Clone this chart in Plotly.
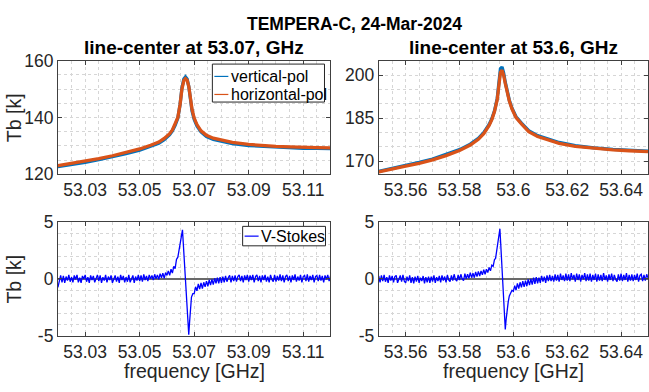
import plotly.graph_objects as go

# ---------------- data ----------------
# top-left: line-center at 53.07 GHz
tl_freq = [53.020, 53.025, 53.030, 53.035, 53.040, 53.045, 53.050, 53.054, 53.057, 53.059,
           53.061, 53.062, 53.063, 53.064, 53.0648, 53.0655, 53.0662, 53.0668, 53.0674, 53.0680,
           53.0686, 53.0692, 53.0700, 53.0710, 53.0725, 53.0745, 53.077, 53.080, 53.084, 53.090,
           53.095, 53.100, 53.105, 53.110, 53.115, 53.120]
tl_hpol = [123.0, 123.8, 124.6, 125.5, 126.5, 127.6, 128.9, 130.2, 131.3, 132.6,
           134.3, 135.6, 137.5, 140.0, 144.5, 150.0, 153.0, 153.7, 153.2, 151.0,
           147.0, 142.8, 139.8, 137.5, 135.3, 133.7, 132.7, 132.0, 131.2, 130.5,
           130.1, 129.8, 129.6, 129.4, 129.35, 129.3]
tl_vpol = [122.7, 123.4, 124.2, 125.1, 126.1, 127.2, 128.5, 129.8, 130.9, 132.2,
           133.9, 135.3, 137.2, 139.8, 144.5, 150.4, 153.6, 154.3, 153.6, 151.0,
           146.6, 142.3, 139.3, 137.0, 134.9, 133.3, 132.3, 131.6, 130.8, 130.1,
           129.8, 129.5, 129.3, 129.1, 129.1, 129.0]

# top-right: line-center at 53.6 GHz
tr_freq = [53.550, 53.555, 53.560, 53.565, 53.570, 53.575, 53.580, 53.584, 53.587, 53.589,
           53.591, 53.592, 53.593, 53.594, 53.5946, 53.5952, 53.5958, 53.5964, 53.5970, 53.5977,
           53.5985, 53.5995, 53.601, 53.603, 53.6057, 53.609, 53.613, 53.617, 53.623, 53.630,
           53.637, 53.643, 53.650]
tr_hpol = [166.2, 167.1, 168.2, 169.2, 170.4, 171.9, 173.7, 175.6, 177.6, 179.6,
           182.5, 184.5, 187.3, 191.5, 197.5, 201.0, 201.8, 200.0, 197.2, 194.2,
           191.0, 188.2, 185.2, 183.0, 180.3, 178.6, 177.4, 176.2, 175.1, 174.4,
           173.9, 173.6, 173.3]
tr_vpol = [166.4, 167.4, 168.5, 169.5, 170.7, 172.2, 174.0, 175.9, 177.9, 179.9,
           182.8, 184.8, 187.6, 191.9, 198.3, 202.3, 202.9, 200.8, 197.6, 194.5,
           191.3, 188.5, 185.5, 183.3, 180.6, 178.9, 177.7, 176.5, 175.4, 174.6,
           174.1, 173.8, 173.5]

# bottom-left: V-Stokes around 53.07 GHz
bl_freq = [
    53.0200, 53.0205, 53.0210, 53.0215, 53.0220, 53.0225, 53.0230, 53.0235, 53.0240, 53.0245,
    53.0250, 53.0255, 53.0260, 53.0265, 53.0270, 53.0275, 53.0280, 53.0285, 53.0290, 53.0295,
    53.0300, 53.0305, 53.0310, 53.0315, 53.0320, 53.0325, 53.0330, 53.0335, 53.0340, 53.0345,
    53.0350, 53.0355, 53.0360, 53.0365, 53.0370, 53.0375, 53.0380, 53.0385, 53.0390, 53.0395,
    53.0400, 53.0405, 53.0410, 53.0415, 53.0420, 53.0425, 53.0430, 53.0435, 53.0440, 53.0445,
    53.0450, 53.0455, 53.0460, 53.0465, 53.0470, 53.0475, 53.0480, 53.0485, 53.0490, 53.0495,
    53.0500, 53.0505, 53.0510, 53.0515, 53.0520, 53.0525, 53.0530, 53.0535, 53.0540, 53.0545,
    53.0550, 53.0555, 53.0560, 53.0565, 53.0570, 53.0575, 53.0580, 53.0585, 53.0590, 53.0595,
    53.0600,
    53.0605, 53.0610, 53.0615, 53.0620, 53.0625, 53.0630, 53.0635, 53.0640, 53.0644, 53.0648,
    53.0651, 53.0654, 53.0657, 53.0660, 53.0663, 53.0666, 53.0669, 53.0672, 53.0675, 53.0678,
    53.0680, 53.0683, 53.0686, 53.0690, 53.0695,
    53.0700, 53.0705, 53.0710, 53.0715, 53.0720, 53.0725, 53.0730, 53.0735, 53.0740, 53.0745,
    53.0750, 53.0755, 53.0760, 53.0765, 53.0770, 53.0775, 53.0780, 53.0785, 53.0790, 53.0795,
    53.0800, 53.0805, 53.0810, 53.0815, 53.0820, 53.0825, 53.0830, 53.0835, 53.0840, 53.0845,
    53.0850, 53.0855, 53.0860, 53.0865, 53.0870, 53.0875, 53.0880, 53.0885, 53.0890, 53.0895,
    53.0900, 53.0905, 53.0910, 53.0915, 53.0920, 53.0925, 53.0930, 53.0935, 53.0940, 53.0945,
    53.0950, 53.0955, 53.0960, 53.0965, 53.0970, 53.0975, 53.0980, 53.0985, 53.0990, 53.0995,
    53.1000, 53.1005, 53.1010, 53.1015, 53.1020, 53.1025, 53.1030, 53.1035, 53.1040, 53.1045,
    53.1050, 53.1055, 53.1060, 53.1065, 53.1070, 53.1075, 53.1080, 53.1085, 53.1090, 53.1095,
    53.1100, 53.1105, 53.1110, 53.1115, 53.1120, 53.1125, 53.1130, 53.1135, 53.1140, 53.1145,
    53.1150, 53.1155, 53.1160, 53.1165, 53.1170, 53.1175, 53.1180, 53.1185, 53.1190, 53.1195,
    53.1200]
bl_vstokes = [
    -0.75, -0.1, 0.3, -0.3, 0.25, -0.35, 0.2, -0.15, 0.35, -0.25,
    0.15, -0.3, 0.3, -0.05, 0.35, -0.3, 0.1, -0.35, 0.25, 0.0,
    0.35, -0.25, 0.15, -0.35, 0.3, -0.1, 0.25, -0.3, 0.1, 0.35,
    -0.2, 0.3, -0.35, 0.15, -0.15, 0.35, -0.3, 0.2, -0.1, 0.3,
    -0.35, 0.1, 0.3, -0.25, 0.2, -0.35, 0.35, -0.1, 0.25, -0.3,
    0.15, -0.25, 0.35, -0.3, 0.05, 0.3, -0.35, 0.2, -0.15, 0.35,
    -0.2, 0.3, -0.25, 0.4, -0.1, 0.25, -0.2, 0.35, 0.0, 0.3,
    -0.1, 0.4, 0.0, 0.35, -0.05, 0.45, 0.1, 0.5, 0.05, 0.55,
    0.3,
    0.7, 0.3, 0.85, 0.5, 1.1, 0.9, 1.7, 1.9, 2.5, 2.8,
    3.3, 3.7, 4.3, 3.1, 1.9, 0.7, -0.5, -1.7, -2.9, -4.1,
    -4.9, -3.8, -2.6, -1.6, -1.3,
    -1.3, -0.7, -1.05, -0.45, -0.9, -0.35, -0.85, -0.3, -0.7, -0.2,
    -0.65, -0.1, -0.55, -0.05, -0.5, 0.05, -0.4, 0.1, -0.4, 0.15,
    -0.35, 0.2, -0.3, 0.25, -0.25, 0.1, 0.3, -0.3, 0.25, -0.2,
    0.3, -0.25, 0.2, 0.35, -0.2, 0.25, -0.3, 0.3, -0.1, 0.35,
    -0.25, 0.3, -0.1, 0.35, -0.3, 0.2, 0.35, -0.2, 0.25, -0.3,
    0.3, -0.1, 0.35, -0.25, 0.2, -0.3, 0.35, -0.05, -0.25, 0.35,
    -0.25, 0.25, -0.15, 0.4, -0.2, 0.3, -0.3, 0.2, 0.35, -0.2,
    0.25, -0.3, 0.3, -0.1, 0.4, -0.25, 0.2, -0.15, 0.35, -0.3,
    0.2, 0.3, -0.2, 0.4, -0.25, 0.25, -0.1, 0.35, -0.3, 0.2,
    0.3, -0.2, 0.35, -0.15, 0.25, -0.3, 0.3, -0.05, 0.35, -0.2,
    0.25]

# bottom-right: V-Stokes around 53.6 GHz
br_freq = [
    53.5500, 53.5505, 53.5510, 53.5515, 53.5520, 53.5525, 53.5530, 53.5535, 53.5540, 53.5545,
    53.5550, 53.5555, 53.5560, 53.5565, 53.5570, 53.5575, 53.5580, 53.5585, 53.5590, 53.5595,
    53.5600, 53.5605, 53.5610, 53.5615, 53.5620, 53.5625, 53.5630, 53.5635, 53.5640, 53.5645,
    53.5650, 53.5655, 53.5660, 53.5665, 53.5670, 53.5675, 53.5680, 53.5685, 53.5690, 53.5695,
    53.5700, 53.5705, 53.5710, 53.5715, 53.5720, 53.5725, 53.5730, 53.5735, 53.5740, 53.5745,
    53.5750, 53.5755, 53.5760, 53.5765, 53.5770, 53.5775, 53.5780, 53.5785, 53.5790, 53.5795,
    53.5800, 53.5805, 53.5810, 53.5815, 53.5820, 53.5825, 53.5830, 53.5835, 53.5840, 53.5845,
    53.5850, 53.5855, 53.5860, 53.5865, 53.5870, 53.5875, 53.5880, 53.5885, 53.5890, 53.5895,
    53.5900,
    53.5905, 53.5910, 53.5915, 53.5920, 53.5925, 53.5930, 53.5934, 53.5938, 53.5942, 53.5946,
    53.5950, 53.5953, 53.5956, 53.5959, 53.5962, 53.5965, 53.5968, 53.5970, 53.5973, 53.5977,
    53.5981, 53.5985, 53.5990, 53.5995,
    53.6000, 53.6005, 53.6010, 53.6015, 53.6020, 53.6025, 53.6030, 53.6035, 53.6040, 53.6045,
    53.6050, 53.6055, 53.6060, 53.6065, 53.6070, 53.6075, 53.6080, 53.6085, 53.6090, 53.6095,
    53.6100, 53.6105, 53.6110, 53.6115, 53.6120, 53.6125, 53.6130, 53.6135, 53.6140, 53.6145,
    53.6150, 53.6155, 53.6160, 53.6165, 53.6170, 53.6175, 53.6180, 53.6185, 53.6190, 53.6195,
    53.6200, 53.6205, 53.6210, 53.6215, 53.6220, 53.6225, 53.6230, 53.6235, 53.6240, 53.6245,
    53.6250, 53.6255, 53.6260, 53.6265, 53.6270, 53.6275, 53.6280, 53.6285, 53.6290, 53.6295,
    53.6300, 53.6305, 53.6310, 53.6315, 53.6320, 53.6325, 53.6330, 53.6335, 53.6340, 53.6345,
    53.6350, 53.6355, 53.6360, 53.6365, 53.6370, 53.6375, 53.6380, 53.6385, 53.6390, 53.6395,
    53.6400, 53.6405, 53.6410, 53.6415, 53.6420, 53.6425, 53.6430, 53.6435, 53.6440, 53.6445,
    53.6450, 53.6455, 53.6460, 53.6465, 53.6470, 53.6475, 53.6480, 53.6485, 53.6490, 53.6495,
    53.6500]
br_vstokes = [
    0.25, -0.3, 0.3, -0.2, 0.35, -0.25, 0.15, -0.35, 0.3, -0.15,
    0.25, -0.3, 0.2, 0.3, -0.35, 0.05, 0.3, -0.25, 0.35, -0.2,
    -0.35, 0.2, -0.2, 0.3, -0.35, 0.15, -0.4, 0.2, -0.25, 0.25,
    -0.35, 0.1, -0.2, 0.25, -0.4, 0.15, -0.3, 0.2, -0.35, 0.2,
    -0.25, 0.3, -0.35, 0.15, -0.2, 0.25, -0.3, 0.3, -0.15, 0.2,
    -0.3, 0.35, -0.1, -0.25, 0.3, -0.15, 0.4, -0.05, -0.2, 0.35,
    -0.1, 0.4, 0.0, -0.15, 0.45, 0.0, 0.4, 0.05, 0.55, 0.1,
    0.5, 0.1, 0.6, 0.2, 0.65, 0.25, 0.7, 0.35, 0.8, 0.4,
    0.85,
    0.55, 1.0, 0.7, 1.2, 1.1, 1.7, 1.8, 2.5, 3.0, 3.6,
    4.4, 3.1, 1.8, 0.4, -1.0, -2.4, -3.7, -4.45, -3.6, -2.6,
    -2.0, -1.5, -1.2, -1.0,
    -1.1, -0.6, -1.0, -0.4, -0.85, -0.3, -0.75, -0.2, -0.7, -0.15,
    -0.65, -0.05, -0.55, 0.0, -0.5, 0.1, -0.45, 0.15, -0.4, 0.1,
    -0.35, 0.25, -0.25, 0.2, -0.35, 0.3, -0.2, 0.35, -0.2, 0.25,
    -0.25, 0.4, -0.15, 0.35, -0.25, 0.45, -0.1, 0.3, -0.2, 0.45,
    -0.15, 0.4, -0.2, 0.5, -0.05, 0.35, -0.25, 0.45, -0.1, 0.4,
    -0.25, 0.35, -0.05, 0.5, -0.2, 0.4, -0.15, 0.45, -0.25, 0.35,
    -0.1, 0.45, -0.25, 0.4, -0.15, 0.35, -0.2, 0.5, -0.1, 0.3,
    -0.25, 0.4, -0.1, 0.45, -0.2, 0.35, -0.05, -0.25, 0.4, -0.15,
    0.45, -0.2, 0.35, -0.1, 0.5, -0.25, 0.35, -0.15, 0.4, -0.2,
    0.35, -0.1, 0.45, -0.25, 0.3, 0.4, -0.2, 0.35, -0.15, 0.4,
    0.1]

# tick labels for the V-Stokes panels (MATLAB prints a plain hyphen)
vs_tickvals = [-5, 0, 5]
vs_ticktext = ["-5", "0", "5"]

# ---------------- styling ----------------
W, H = 649, 392
FONT = "Liberation Sans, Arial, Helvetica, sans-serif"
TXT = "#262626"
BLUE = "#0072BD"
ORANGE = "#D95319"
VBLUE = "#0000FF"
GRID = "#d6d6d6"
AXLINE = "#404040"


def px_x(p):
    return p / W


def px_y(p):
    return 1 - p / H


fig = go.Figure()

traces = [
    (tl_freq, tl_vpol, "vertical-pol", BLUE, 3.3, "x", "y"),
    (tl_freq, tl_hpol, "horizontal-pol", ORANGE, 3.3, "x", "y"),
    (tr_freq, tr_vpol, "vertical-pol", BLUE, 3.3, "x2", "y2"),
    (tr_freq, tr_hpol, "horizontal-pol", ORANGE, 3.3, "x2", "y2"),
    (bl_freq, bl_vstokes, "V-Stokes", VBLUE, 1.3, "x3", "y3"),
    (br_freq, br_vstokes, "V-Stokes", VBLUE, 1.3, "x4", "y4"),
]
for fx, fy, nm, col, lw, xa, ya in traces:
    fig.add_trace(go.Scatter(x=fx, y=fy, mode="lines", name=nm, showlegend=False,
                             line=dict(color=col, width=lw), xaxis=xa, yaxis=ya))

left_dom = [px_x(58), px_x(331)]
right_dom = [px_x(379.3), 1.0]
top_dom = [px_y(173), px_y(53.5)]
bot_dom = [px_y(343.3), px_y(223.3)]

TICKSIZE = 17.5


def xax(dom, rng, tick0, anchor):
    return dict(domain=dom, range=rng, tickmode="linear", tick0=tick0, dtick=0.02,
                showline=True, linecolor=AXLINE, linewidth=1, mirror="allticks",
                ticks="inside", ticklen=4, tickcolor=AXLINE,
                showgrid=True, gridcolor=GRID, griddash="dot", gridwidth=1,
                minor=dict(tick0=tick0, dtick=0.005, showgrid=True, gridcolor=GRID,
                           griddash="dot", gridwidth=1, ticks=""),
                tickfont=dict(family=FONT, size=TICKSIZE, color=TXT), zeroline=False,
                anchor=anchor, fixedrange=True)


def yax(dom, rng, tick0, dtick, mdtick, anchor, zero=False):
    d = dict(domain=dom, range=rng, tickmode="linear", tick0=tick0, dtick=dtick,
             showline=True, linecolor=AXLINE, linewidth=1, mirror="allticks",
             ticks="inside", ticklen=4, tickcolor=AXLINE,
             showgrid=True, gridcolor=GRID, griddash="dot", gridwidth=1,
             minor=dict(tickmode="linear", tick0=0, dtick=mdtick, showgrid=True, gridcolor=GRID,
                        griddash="dot", gridwidth=1, ticks=""),
             tickfont=dict(family=FONT, size=TICKSIZE, color=TXT),
             zeroline=zero, zerolinecolor="#6a6a6a", zerolinewidth=1.6,
             anchor=anchor, fixedrange=True)
    if zero:
        d.update(tickmode="array", tickvals=vs_tickvals, ticktext=vs_ticktext)
    return d


fig.update_layout(
    width=W, height=H, margin=dict(l=0, r=0, t=0, b=0),
    paper_bgcolor="white", plot_bgcolor="white",
    font=dict(family=FONT, color=TXT),
    xaxis=xax(left_dom, [53.02, 53.12], 53.03, "y"),
    yaxis=yax(top_dom, [120, 160], 120, 20, 5, "x"),
    xaxis2=xax(right_dom, [53.55, 53.65], 53.56, "y2"),
    yaxis2=yax(top_dom, [165.4, 205.1], 170, 15, 5, "x2"),
    xaxis3=xax(left_dom, [53.02, 53.12], 53.03, "y3"),
    yaxis3=yax(bot_dom, [-5, 5], -5, 5, 1, "x3", zero=True),
    xaxis4=xax(right_dom, [53.55, 53.65], 53.56, "y4"),
    yaxis4=yax(bot_dom, [-5, 5], -5, 5, 1, "x4", zero=True),
    showlegend=False,
)

# ---- legends drawn as boxes with sample lines and text ----
shapes = []
annotations = []


def legend_box(x0, y0, x1, y1, entries):
    shapes.append(dict(type="rect", xref="paper", yref="paper",
                       x0=px_x(x0), x1=px_x(x1), y0=px_y(y1), y1=px_y(y0),
                       line=dict(color="#262626", width=1), fillcolor="white", layer="above"))
    for name, col, lw, ly in entries:
        shapes.append(dict(type="line", xref="paper", yref="paper",
                           x0=px_x(x0 + 2), x1=px_x(x0 + 16), y0=px_y(ly), y1=px_y(ly),
                           line=dict(color=col, width=lw), layer="above"))
        annotations.append(dict(text=name, x=px_x(x0 + 16.5), y=px_y(ly), xanchor="left",
                                yanchor="middle", font=dict(size=16, color="#000000")))


legend_box(212.7, 57, 325, 97, [(traces[0][2], BLUE, 1.2, 70), (traces[1][2], ORANGE, 1.2, 89)])
legend_box(243, 228, 326, 248.5, [(traces[4][2], VBLUE, 1.2, 238.3)])

annotations += [
    dict(text="<b>TEMPERA-C, 24-Mar-2024</b>", x=px_x(355), y=px_y(15),
         font=dict(size=17.5, color="#000000")),
    dict(text="<b>line-center at 53.07, GHz</b>", x=px_x(194.5), y=px_y(40),
         font=dict(size=19, color="#000000")),
    dict(text="<b>line-center at 53.6, GHz</b>", x=px_x(514), y=px_y(40),
         font=dict(size=19, color="#000000")),
    dict(text="Tb [k]", x=px_x(14), y=px_y(113), textangle=-90,
         font=dict(size=19.5, color=TXT)),
    dict(text="Tb [k]", x=px_x(14), y=px_y(283), textangle=-90,
         font=dict(size=19.5, color=TXT)),
    dict(text="frequency [GHz]", x=px_x(194.5), y=px_y(380),
         font=dict(size=19.5, color=TXT)),
    dict(text="frequency [GHz]", x=px_x(514), y=px_y(380),
         font=dict(size=19.5, color=TXT)),
]
for a in annotations:
    a.update(xref="paper", yref="paper", showarrow=False)
    a.setdefault("xanchor", "center")
    a.setdefault("yanchor", "middle")
    a["font"]["family"] = FONT
fig.update_layout(annotations=annotations, shapes=shapes)

fig.write_html("out.html", config={"displayModeBar": False},
               post_script="document.body.style.margin='0';document.body.style.overflow='hidden';")
